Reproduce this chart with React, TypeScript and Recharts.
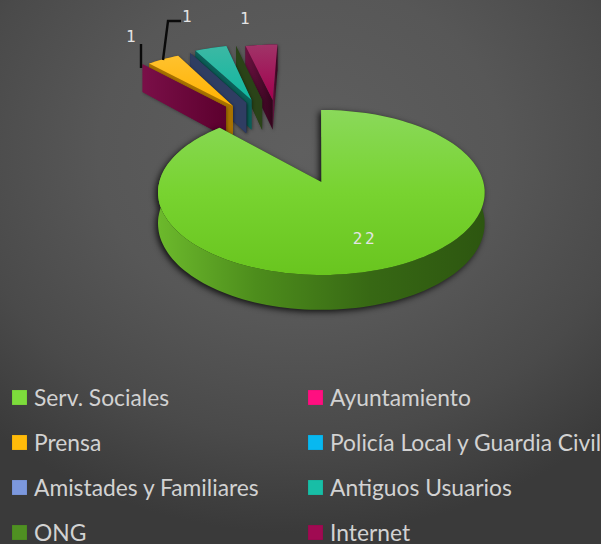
// App.tsx
// Exploded 3D-look pie of referral sources, projected from Recharts' own sector angles.
import { PieChart, Pie } from 'recharts'

const CATEGORIES = ['Serv. Sociales', 'Ayuntamiento', 'Prensa', 'Policía Local y Guardia Civil', 'Amistades y Familiares', 'Antiguos Usuarios', 'ONG', 'Internet']
const VALUES = [22, 0, 1, 0, 0, 1, 0, 1]
const LEGEND_COLORS = ['#7ddc3c', '#ff0f80', '#ffbb0a', '#08b8f0', '#7c98de', '#18bea6', '#4f9022', '#a00a52']

// styles per slice, same order as CATEGORIES
const TOP_FILLS = ['url(#topGreen)', '#ff0f80', 'url(#topAmber)', '#08b8f0', '#7c98de', 'url(#topTeal)', '#4f9022', 'url(#topRose)']
const CUT_FILLS = ['#2f5a12', 'url(#wallMaroon)', '#a87200', '#2f3d62', '#2f3d62', '#0c5f58', '#2a4318', 'url(#wallRose)']
const RIM_FILLS = ['url(#rimGreen)', '#5f0030', '#a87200', '#2f3d62', '#2f3d62', '#0c5f58', '#2a4318', '#4a0c2e']
// how far each slice is pulled out, in radii
const EXPLODE: [number, number][] = [[0.008, 0], [-0.658, 1.05], [-0.61, 1.062], [-0.52, 1.11], [-0.52, 1.11], [-0.485, 1.158], [-0.41, 1.158], [-0.335, 1.158]]

// value labels are placed by hand, as in the source slide
const LABELS: Record<string, { x: number; y: number; leader?: string }> = {
  'Serv. Sociales': { x: 365, y: 244 },
  Prensa: { x: 132, y: 42, leader: '141,44 141,68' },
  'Antiguos Usuarios': { x: 188, y: 22, leader: '181,21 168,21 163,60' },
  Internet: { x: 246, y: 24 },
}

const W = 601
const H = 544
const PERSPECTIVE = 0.127
const SQUASH = 0.501
const DEPTH = 0.188

const rows = CATEGORIES.map((name, i) => ({ name, value: VALUES[i], idx: i })).reverse()

function Slice(props: any) {
  const { cx, cy, outerRadius: R, startAngle, endAngle, payload } = props
  const i = payload.idx
  const [ox, oz] = EXPLODE[i]
  const depth = i === 0 ? DEPTH : DEPTH * 1.12
  const pt = (deg: number, r: number, lift: number) => {
    const X = r * Math.cos((deg * Math.PI) / 180) + ox
    const Z = r * Math.sin((deg * Math.PI) / 180) + oz
    const s = 1 / (1 + PERSPECTIVE * Z)
    return `${(cx + R * X * s).toFixed(1)},${(cy - R * SQUASH * Z * s + R * depth * s * lift).toFixed(1)}`
  }
  const steps = Math.max(1, Math.ceil(Math.abs(endAngle - startAngle) / 2))
  const arc: number[] = []
  for (let k = 0; k <= steps; k++) arc.push(startAngle + ((endAngle - startAngle) * k) / steps)

  const top = [pt(0, 0, 0), ...arc.map(a => pt(a, 1, 0))].join(' ')
  const rim = [...arc.map(a => pt(a, 1, 0)), ...[...arc].reverse().map(a => pt(a, 1, 1))].join(' ')
  const cut = (a: number) => [pt(0, 0, 0), pt(a, 1, 0), pt(a, 1, 1), pt(0, 0, 1)].join(' ')

  return (
    <g style={{ filter: i === 0 ? 'drop-shadow(-2px 2px 3px rgba(0,0,0,0.8))' : 'drop-shadow(1px 1px 1.5px rgba(0,0,0,0.35))' }}>
      {endAngle > startAngle && <polygon points={rim} fill={RIM_FILLS[i]} />}
      <polygon points={cut(startAngle)} fill={CUT_FILLS[i]} />
      <polygon points={cut(endAngle)} fill={CUT_FILLS[i]} />
      {endAngle > startAngle && <polygon points={top} fill={TOP_FILLS[i]} />}
    </g>
  )
}

function ValueLabel(props: any) {
  const spot = LABELS[props.name]
  if (!spot || !props.value) return null
  return (
    <g>
      {spot.leader && <polyline points={spot.leader} fill="none" stroke="#0a0a0a" strokeWidth={2.4} />}
      <text x={spot.x} y={spot.y} textAnchor="middle" fill="#e4e4e4" fontSize={16} letterSpacing={2.5} fontFamily="'DejaVu Sans Mono', monospace">
        {props.value}
      </text>
    </g>
  )
}

export default function App() {
  return (
    <div
      style={{
        position: 'absolute', left: 0, top: 0, width: W, height: H, overflow: 'hidden',
        background: 'radial-gradient(ellipse 75% 70% at 50% 28%, #5f5f5f 0%, #575757 45%, #4a4a4a 75%, #3a3a3a 100%)',
      }}
    >
      <PieChart width={W} height={H} margin={{ top: 0, right: 0, bottom: 0, left: 0 }}>
        <defs>
          <linearGradient id="topGreen" x1="0" y1="0" x2="0" y2="1">
            <stop offset="0" stopColor="#8ad95a" />
            <stop offset="0.5" stopColor="#78d330" />
            <stop offset="1" stopColor="#69c51f" />
          </linearGradient>
          <linearGradient id="rimGreen" x1="0" y1="0" x2="1" y2="0">
            <stop offset="0" stopColor="#6cb92c" />
            <stop offset="0.3" stopColor="#4d8d1c" />
            <stop offset="0.65" stopColor="#376814" />
            <stop offset="1" stopColor="#2d5610" />
          </linearGradient>
          <linearGradient id="topAmber" x1="0" y1="0" x2="0" y2="1">
            <stop offset="0" stopColor="#ffc22e" />
            <stop offset="1" stopColor="#ffb100" />
          </linearGradient>
          <linearGradient id="topTeal" x1="0" y1="0" x2="0" y2="1">
            <stop offset="0" stopColor="#3cb8a4" />
            <stop offset="1" stopColor="#0fb8a0" />
          </linearGradient>
          <linearGradient id="topRose" x1="0" y1="0" x2="0" y2="1">
            <stop offset="0" stopColor="#a03468" />
            <stop offset="1" stopColor="#a2004e" />
          </linearGradient>
          <linearGradient id="wallMaroon" x1="0" y1="0" x2="1" y2="0">
            <stop offset="0" stopColor="#7a0f48" />
            <stop offset="1" stopColor="#5c002e" />
          </linearGradient>
          <linearGradient id="wallRose" x1="0" y1="0" x2="1" y2="0">
            <stop offset="0" stopColor="#6a1240" />
            <stop offset="1" stopColor="#33041c" />
          </linearGradient>
        </defs>
        <Pie
          data={rows}
          dataKey="value"
          nameKey="name"
          cx={320}
          cy={182}
          outerRadius={162}
          startAngle={90}
          endAngle={450}
          stroke="none"
          shape={Slice}
          label={ValueLabel}
          labelLine={false}
          isAnimationActive={false}
        />
      </PieChart>
      {CATEGORIES.map((name, i) => (
        <div
          key={name}
          style={{
            position: 'absolute', left: i % 2 ? 308 : 12, top: 397 + 45 * Math.floor(i / 2) - 16, height: 32,
            display: 'flex', alignItems: 'center', whiteSpace: 'nowrap',
          }}
        >
          <span style={{ width: 15, height: 15, marginRight: 7, background: LEGEND_COLORS[i], boxShadow: 'inset 0 0 1px rgba(0,0,0,0.4)' }} />
          <span style={{ color: '#d2d2d2', fontFamily: 'Lato, sans-serif', fontSize: 22.8 }}>{name}</span>
        </div>
      ))}
    </div>
  )
}
